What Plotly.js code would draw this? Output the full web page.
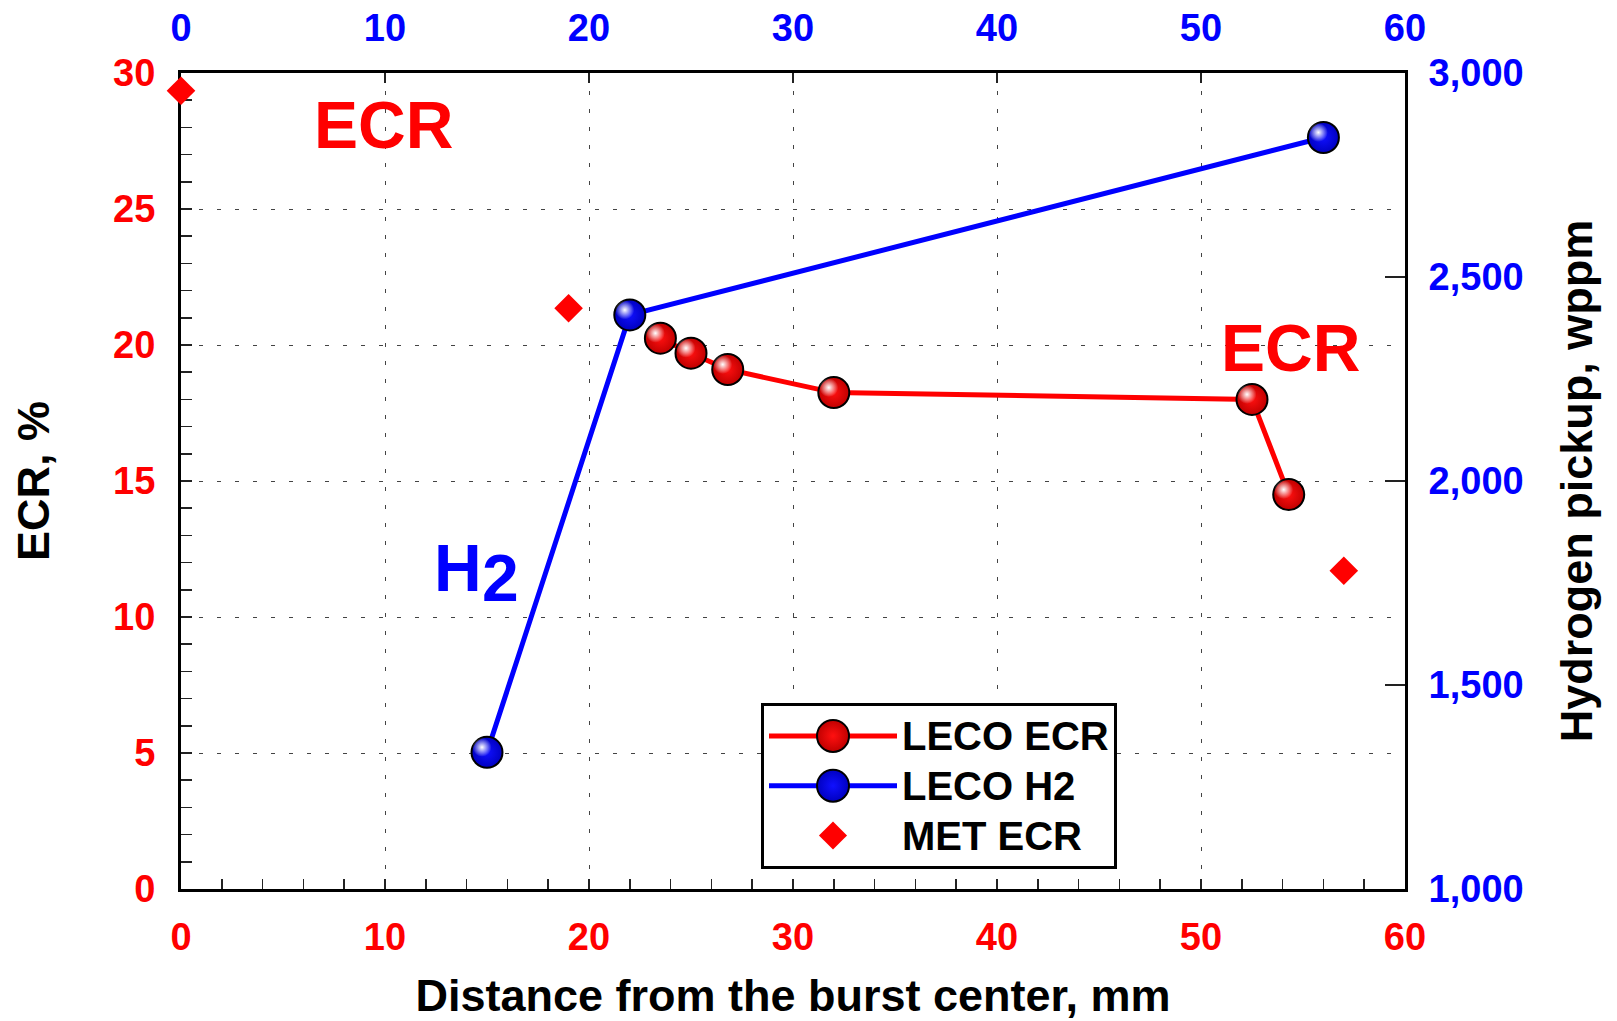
<!DOCTYPE html>
<html><head><meta charset="utf-8">
<script src="https://cdn.plot.ly/plotly-3.0.1.min.js"></script>
<style>html,body{margin:0;padding:0;background:#fff}#chart{width:1617px;height:1021px}</style>
</head><body><div id="chart"></div>
<script>
// ---- data ----
const lecoEcrX = [23.5, 25.0, 26.8, 32.0, 52.5, 54.3];
const lecoEcrY = [20.25, 19.7, 19.1, 18.25, 18.0, 14.5];
const lecoH2X = [15.0, 22.0, 56.0];
const lecoH2Y = [1335, 2407, 2842];
const metEcrX = [0, 19.0, 57.0];
const metEcrY = [29.35, 21.35, 11.7];
const seriesNames = ['LECO ECR', 'LECO H2', 'MET ECR'];
const xTitle = 'Distance from the burst center, mm';
const yTitle = 'ECR, %';
const y2Title = 'Hydrogen pickup, wppm';
const xRange = [0, 60];
const yRange = [0, 30];
const y2Range = [1000, 3000];

// ---- layout constants ----
const W = 1617, H = 1021;
const M = {l: 181, r: 212, t: 73, b: 132};
const plotW = W - M.l - M.r, plotH = H - M.t - M.b;
const FAM = 'Liberation Sans, Arial, Helvetica, sans-serif';
const hl = 5; // highlight offset in px
const dx = hl * (xRange[1] - xRange[0]) / plotW;
const dy = hl * (yRange[1] - yRange[0]) / plotH;
const dy2 = hl * (y2Range[1] - y2Range[0]) / plotH;

const tickF = c => ({family: FAM, size: 38, color: c, weight: 'bold'});
const legName = s => '<span style="font-size:40px">' + s + '</span>';

const traces = [
  {x: lecoEcrX, y: lecoEcrY, name: legName(seriesNames[0]), mode: 'lines+markers', xaxis: 'x', yaxis: 'y',
   line: {color: '#ff0000', width: 5},
   marker: {size: 31, color: '#c00000', gradient: {type: 'radial', color: '#ff1010'}, line: {color: '#000', width: 2}}},
  {x: lecoH2X, y: lecoH2Y, name: legName(seriesNames[1]), mode: 'lines+markers', xaxis: 'x2', yaxis: 'y2',
   line: {color: '#0000ff', width: 5},
   marker: {size: 31, color: '#0000c0', gradient: {type: 'radial', color: '#1010ff'}, line: {color: '#000', width: 2}}},
  {x: metEcrX, y: metEcrY, name: legName(seriesNames[2]), mode: 'markers', xaxis: 'x', yaxis: 'y', cliponaxis: false,
   marker: {symbol: 'diamond', size: 22, color: '#ff0000'}},
  {x: lecoEcrX, y: lecoEcrY, mode: 'markers', xaxis: 'x3', yaxis: 'y3', showlegend: false, hoverinfo: 'skip',
   marker: {size: 19, color: 'rgba(255,255,255,0)', gradient: {type: 'radial', color: '#ffffff'}}},
  {x: lecoH2X, y: lecoH2Y, mode: 'markers', xaxis: 'x4', yaxis: 'y4', showlegend: false, hoverinfo: 'skip',
   marker: {size: 19, color: 'rgba(255,255,255,0)', gradient: {type: 'radial', color: '#ffffff'}}}
];

const gridCommon = {gridcolor: '#444', gridwidth: 1, griddash: '4px,14px'};
const layout = {
  width: W, height: H, margin: M, paper_bgcolor: '#fff', plot_bgcolor: '#fff',
  font: {family: FAM, color: '#000'},
  showlegend: true,
  legend: {x: (761 - M.l) / plotW, y: (M.t + plotH - 703) / plotH, xanchor: 'left', yanchor: 'top',
    bgcolor: '#fff', bordercolor: '#000', borderwidth: 3, itemwidth: 128,
    font: {family: FAM, size: 36, color: '#000', weight: 'bold'}},
  xaxis: Object.assign({range: xRange, dtick: 10, tick0: 0, showline: true, linecolor: '#000', linewidth: 3,
    ticks: 'inside', ticklen: 10, tickwidth: 1.5, tickcolor: '#222', zeroline: false, showgrid: true,
    minor: {dtick: 2, ticks: 'inside', ticklen: 10, tickwidth: 1.5, tickcolor: '#222', showgrid: false},
    tickfont: tickF('#ff0000'), ticklabelstandoff: 12,
    title: {text: xTitle, font: {family: FAM, size: 45, color: '#000', weight: 'bold'}, standoff: 30}}, gridCommon),
  xaxis2: {overlaying: 'x', side: 'top', anchor: 'y', range: xRange, dtick: 10, tick0: 0, showline: true, linecolor: '#000', linewidth: 3,
    ticks: 'inside', ticklen: 10, tickwidth: 1.5, tickcolor: '#222', zeroline: false, showgrid: false,
    tickfont: tickF('#0000ff'), ticklabelstandoff: 14},
  yaxis: Object.assign({range: yRange, dtick: 5, tick0: 0, showline: true, linecolor: '#000', linewidth: 3, layer: 'below traces',
    ticks: 'inside', ticklen: 11, tickwidth: 1.5, tickcolor: '#222', zeroline: false, showgrid: true,
    minor: {dtick: 1, ticks: 'inside', ticklen: 11, tickwidth: 1.5, tickcolor: '#222', showgrid: false},
    tickfont: tickF('#ff0000'), ticklabelstandoff: 15,
    title: {text: yTitle, font: {family: FAM, size: 45, color: '#000', weight: 'bold'}, standoff: 50}}, gridCommon),
  yaxis2: {overlaying: 'y', side: 'right', anchor: 'x', range: y2Range, dtick: 500, tick0: 1000, tickformat: ',',
    showline: true, linecolor: '#000', linewidth: 3,
    ticks: 'inside', ticklen: 20, tickwidth: 1.5, tickcolor: '#222', zeroline: false, showgrid: false,
    tickfont: tickF('#0000ff'), ticklabelstandoff: 13,
    title: {text: y2Title, font: {family: FAM, size: 45, color: '#000', weight: 'bold'}, standoff: 38}},
  xaxis3: {overlaying: 'x', range: [xRange[0] + dx, xRange[1] + dx], visible: false},
  yaxis3: {overlaying: 'y', range: [yRange[0] - dy, yRange[1] - dy], visible: false},
  xaxis4: {overlaying: 'x', range: [xRange[0] + dx, xRange[1] + dx], visible: false},
  yaxis4: {overlaying: 'y', range: [y2Range[0] - dy2, y2Range[1] - dy2], visible: false},
  annotations: [
    {text: 'ECR', x: 9.95, y: 28.1, xref: 'x', yref: 'y', showarrow: false, xanchor: 'center', yanchor: 'middle',
     font: {family: FAM, size: 66, color: '#ff0000', weight: 'bold'}},
    {text: 'ECR', x: 54.4, y: 19.9, xref: 'x', yref: 'y', showarrow: false, xanchor: 'center', yanchor: 'middle',
     font: {family: FAM, size: 66, color: '#ff0000', weight: 'bold'}},
    {text: 'H', x: 13.6, y: 11.8, xref: 'x', yref: 'y', showarrow: false, xanchor: 'center', yanchor: 'middle',
     font: {family: FAM, size: 66, color: '#0000ff', weight: 'bold'}},
    {text: '2', x: 15.65, y: 11.45, xref: 'x', yref: 'y', showarrow: false, xanchor: 'center', yanchor: 'middle',
     font: {family: FAM, size: 66, color: '#0000ff', weight: 'bold'}}
  ]
};

Plotly.newPlot('chart', traces, layout, {staticPlot: true}).then(() => {
  const scales = [2.0, 2.0, 1.35];
  document.querySelectorAll('.legend .traces').forEach((g, i) => {
    g.querySelectorAll('path.scatterpts').forEach(p => {
      const t = p.getAttribute('transform') || '';
      p.setAttribute('transform', t + ' scale(' + (scales[i] || 1) + ')');
      p.style.vectorEffect = 'non-scaling-stroke';
    });
  });
});
</script></body></html>
